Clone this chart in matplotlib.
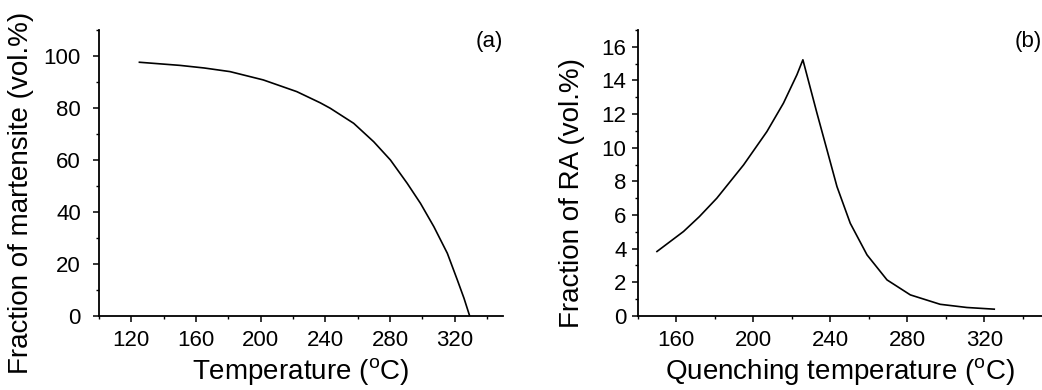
import matplotlib
matplotlib.use('Agg')
import matplotlib.pyplot as plt
from matplotlib.ticker import MultipleLocator, AutoMinorLocator

plt.rcParams['font.family'] = ['Liberation Sans', 'DejaVu Sans']

## (a) martensite fraction vs temperature
temp_a = [125, 150, 165, 181, 201.6, 222.3, 236.8, 243, 257.5, 269.9, 280.2,
          290.6, 298.8, 307.1, 315.4, 321.6, 325.7, 329.2]
mart = [97.6, 96.4, 95.4, 94.0, 90.8, 86.3, 82.0, 79.9, 74.1, 67.0, 60.0,
        51.0, 43.3, 34.3, 24.1, 13.8, 6.8, 0.0]

## (b) retained austenite vs quenching temperature
temp_b = [150, 163.8, 172, 181.1, 195, 207.1, 215.7, 222.7, 225.8,
          233.1, 238.3, 243.5, 250.4, 259.1, 269.5, 281.6, 297.1, 311, 325.2]
ra = [3.83, 5.02, 5.9, 7.0, 8.98, 10.96, 12.65, 14.34, 15.23,
      12.06, 9.88, 7.69, 5.51, 3.63, 2.14, 1.25, 0.69, 0.50, 0.40]

fig = plt.figure(figsize=(10.42, 3.90), dpi=100)
ax1 = fig.add_axes([0.095, 0.19, 0.388, 0.733])
ax2 = fig.add_axes([0.612, 0.19, 0.388, 0.733])

ax1.plot(temp_a, mart, color='black', lw=1.2)
ax1.set_xlim(100, 350)
ax1.set_ylim(0, 110)
ax1.set_xticks(range(120, 340, 40))
ax1.yaxis.set_major_locator(MultipleLocator(20))
ax1.set_xlabel('Temperature ($\\mathregular{^oC}$)', fontsize=20, labelpad=4)
ax1.set_ylabel('Fraction of martensite (vol.%)', fontsize=20)
ax1.yaxis.set_label_coords(-0.16, 0.43)
ax1.tick_params(axis='y', pad=9)
ax1.text(1.0, 0.995, '(a)', transform=ax1.transAxes, ha='right', va='top', fontsize=16)

ax2.plot(temp_b, ra, color='black', lw=1.2)
ax2.set_xlim(140, 350)
ax2.set_ylim(0, 17)
ax2.set_xticks(range(160, 340, 40))
ax2.yaxis.set_major_locator(MultipleLocator(2))
ax2.set_xlabel('Quenching temperature ($\\mathregular{^oC}$)', fontsize=20, labelpad=4)
ax2.set_ylabel('Fraction of RA (vol.%)', fontsize=20)
ax2.yaxis.set_label_coords(-0.13, 0.43)
ax2.tick_params(axis='y', pad=4)
ax2.text(1.0, 0.995, '(b)', transform=ax2.transAxes, ha='right', va='top', fontsize=16)

for ax in [ax1, ax2]:
    ax.spines['top'].set_visible(False)
    ax.spines['right'].set_visible(False)
    ax.spines['left'].set_linewidth(1.3)
    ax.spines['bottom'].set_linewidth(1.3)
    ax.xaxis.set_minor_locator(AutoMinorLocator(2))
    ax.yaxis.set_minor_locator(AutoMinorLocator(2))
    ax.tick_params(which='major', direction='out', length=4, width=1.1, labelsize=16)
    ax.tick_params(axis='x', pad=6)
    ax.tick_params(which='minor', direction='out', length=2.5, width=1.0)

fig.savefig('out.png', dpi=100)
